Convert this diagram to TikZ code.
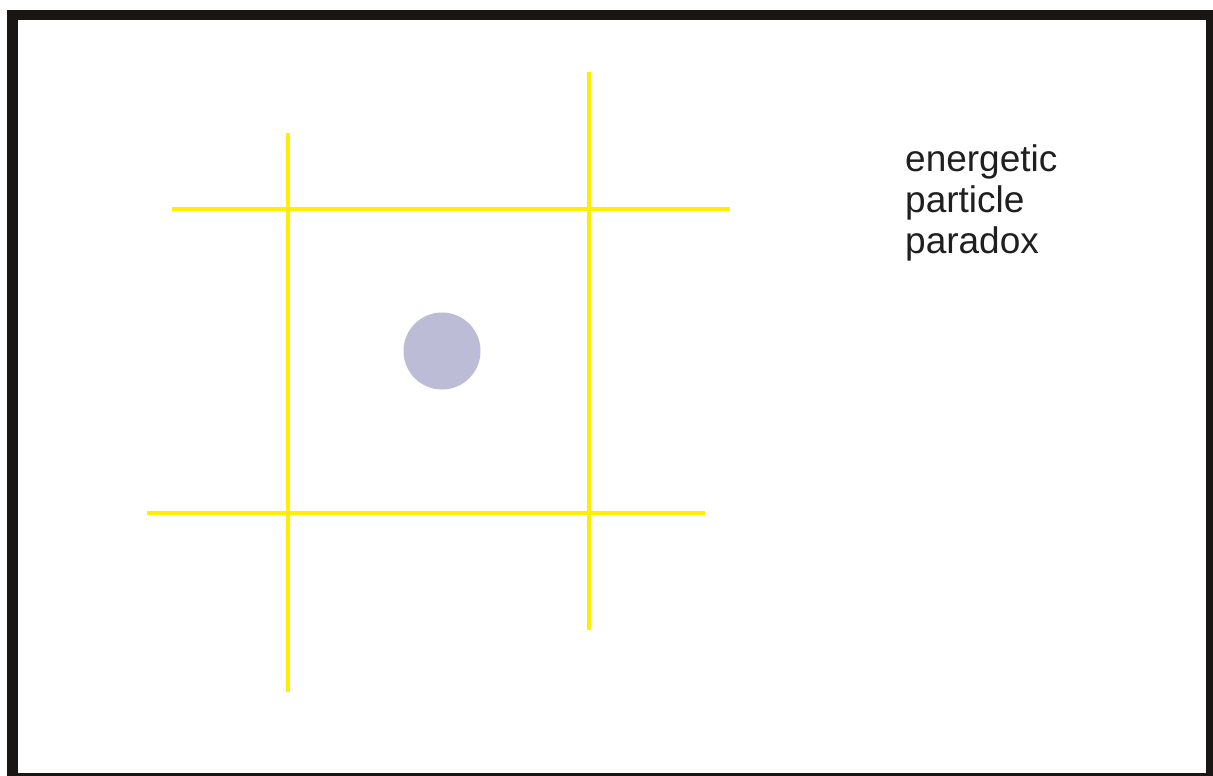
\documentclass[tikz,border=0pt]{standalone}
\usepackage{fontspec}
\setmainfont{Liberation Sans}
\definecolor{frame}{HTML}{1A1614}
\definecolor{gridyellow}{HTML}{FFEE00}
\definecolor{dot}{HTML}{BCBCD6}
\begin{document}
\begin{tikzpicture}[x=1pt,y=-1pt,
  gridline/.style={draw=gridyellow,line width=4.5pt},
  label/.style={font=\fontsize{37}{37}\selectfont,anchor=base west,inner sep=0pt,text=black!88}]
\useasboundingbox (0,0) rectangle (1213,776);
\fill[white] (0,0) rectangle (1213,776);
% frame
\fill[frame] (7,10) rectangle (1213,776);
\fill[white] (18,20) rectangle (1206,773);
% grid lines
\draw[gridline] (288,133) -- (288,692);
\draw[gridline] (589,72) -- (589,630);
\draw[gridline] (172,209) -- (730,209);
\draw[gridline] (147,513) -- (705,513);
% particle
\fill[dot] (442,351) circle[radius=38.5];
% text
\node[label] (l1) at (905,171) {energetic};
\node[label] (l2) at (905,212) {particle};
\node[label] (l3) at (905,253) {paradox};
\end{tikzpicture}
\end{document}
